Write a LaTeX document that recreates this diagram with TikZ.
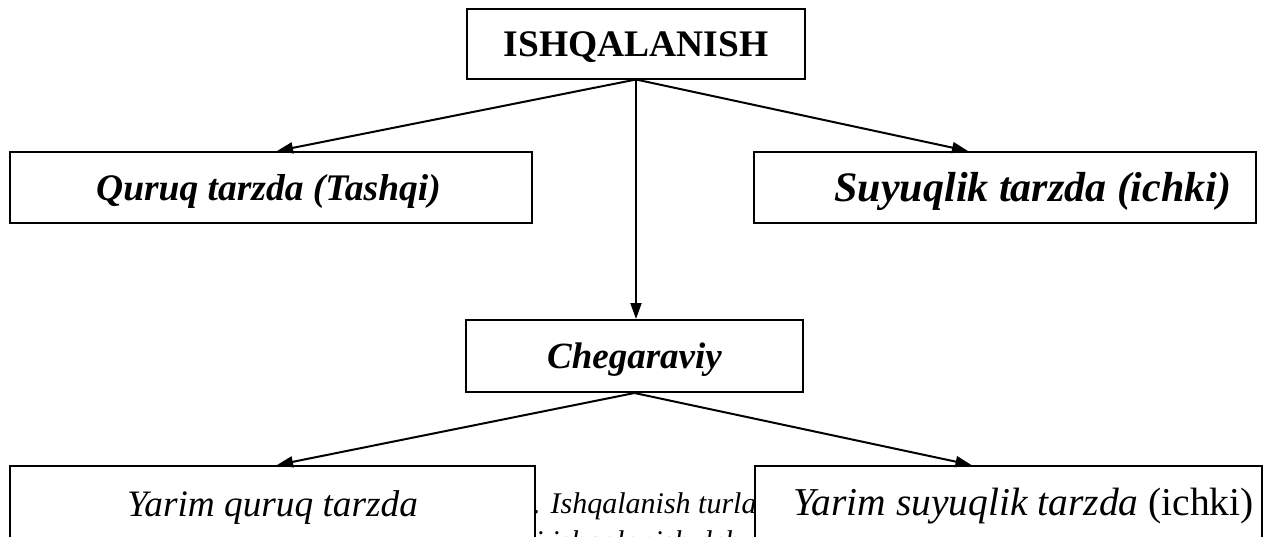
\documentclass[tikz,border=0pt]{standalone}
\usepackage{fontspec}
\setmainfont{Liberation Serif}
\usetikzlibrary{arrows.meta,calc}

\tikzset{
  box/.style={draw, line width=2pt, fill=white, inner sep=0pt,
    text height=25pt, text depth=0pt},
  link/.style={line width=2pt, -{Triangle[length=16pt,width=11pt]}},
  bodytext/.style={anchor=base west, inner sep=0pt, font=\fontsize{30}{33}\selectfont\itshape}
}

\begin{document}
\begin{tikzpicture}[x=1pt, y=-1pt]
  \useasboundingbox (0,0) rectangle (1267,536);
  \clip (0,0) rectangle (1267,536);

  % running text of the page behind the lower boxes
  \node[bodytext] (line1) at (533,513) {. Ishqalanish turlari};
  \node[bodytext] (line2) at (535,551) {i ishqalanish deb};

  % top level
  \node[box, minimum width=338pt, minimum height=70pt,
        font=\fontsize{37.5}{40}\selectfont\bfseries] (top) at (636,43.5) {ISHQALANISH};

  % second level
  \node[box, minimum width=522pt, minimum height=71pt,
        font=\fontsize{37.5}{40}\selectfont\bfseries\itshape] (quruq) at (271,187.5)
        {Quruq tarzda (Tashqi)\hspace*{5pt}};
  \node[box, minimum width=502pt, minimum height=71pt, text height=27pt,
        font=\fontsize{42}{44}\selectfont\bfseries\itshape] (suyuq) at (1005,187.5)
        {\hspace*{56pt}Suyuqlik tarzda (ichki)};

  % boundary friction
  \node[box, minimum width=337pt, minimum height=72pt,
        font=\fontsize{37}{40}\selectfont\bfseries\itshape] (cheg) at (634.5,356) {Chegaraviy};

  % lower level: the boxes run on below the edge
  \node[box, minimum width=525pt, minimum height=110pt, text height=0pt,
        font=\fontsize{37.3}{40}\selectfont\itshape] (yq) at (272.5,521)
        {\smash{\raisebox{5pt}{Yarim quruq tarzda}}};
  \node[box, minimum width=507pt, minimum height=110pt, text height=0pt,
        font=\fontsize{39.5}{42}\selectfont] (ys) at (1008.5,521)
        {\smash{\raisebox{6pt}{\hspace*{30pt}\textit{Yarim suyuqlik tarzda} (ichki)}}};

  % connectors
  \draw[link] (top.south) -- ($(quruq.north)+(6,0)$);
  \draw[link] (top.south) -- ($(suyuq.north)+(-37,0)$);
  \draw[link] (top.south) -- (top.south |- cheg.north);
  \draw[link] (cheg.south) -- ($(yq.north)+(4.5,0)$);
  \draw[link] (cheg.south) -- ($(ys.north)+(-37,0)$);
\end{tikzpicture}
\end{document}
